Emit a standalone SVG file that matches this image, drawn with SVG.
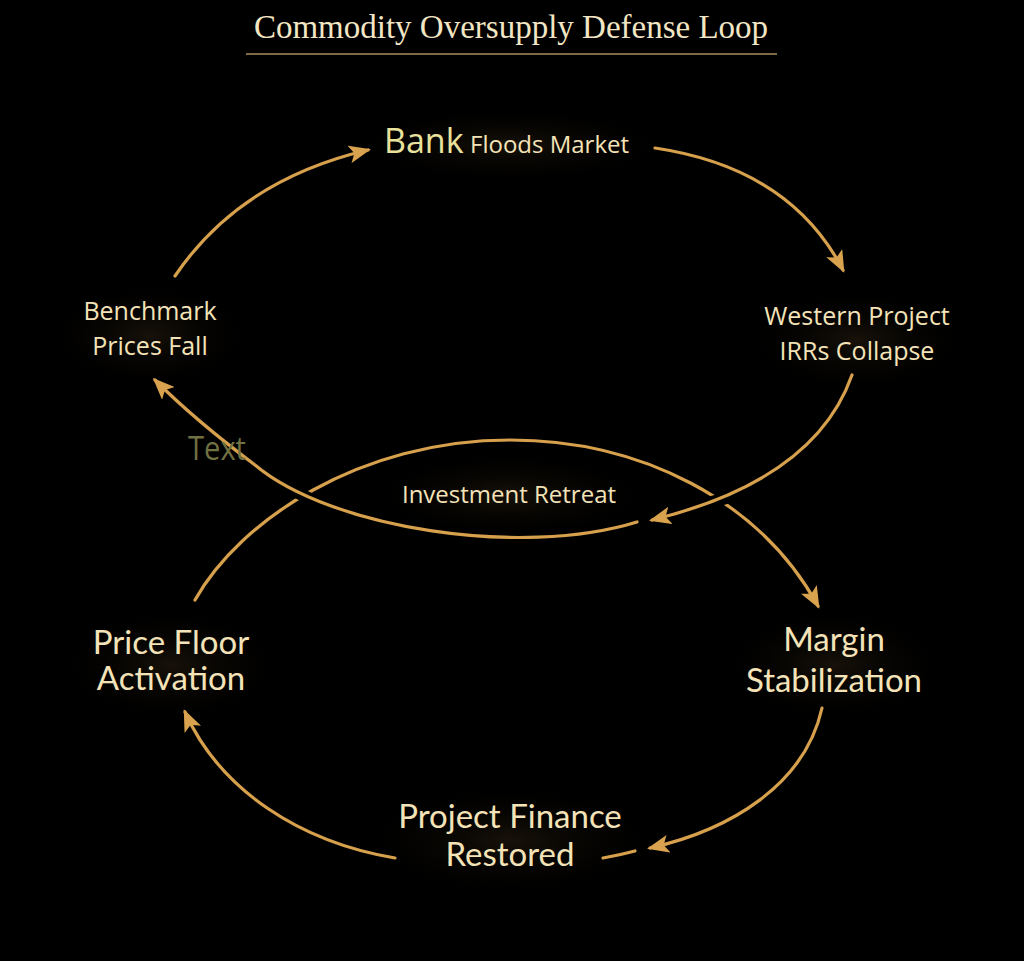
<svg xmlns="http://www.w3.org/2000/svg" width="1024" height="961" viewBox="0 0 1024 961">
<defs>
<marker id="ah" viewBox="0 0 22 18" refX="19" refY="9" markerWidth="22" markerHeight="18" markerUnits="userSpaceOnUse" orient="auto">
<path d="M0,0 L22,9 L0,18 L5,9 Z" fill="#d9a24e"/>
</marker>
<radialGradient id="glow" cx="50%" cy="50%" r="50%">
<stop offset="0" stop-color="#2a2010" stop-opacity="0.55"/>
<stop offset="1" stop-color="#000" stop-opacity="0"/>
</radialGradient>
<style>
.lbl{font-family:"Open Sans","Lato",sans-serif;fill:#f4e3b8;text-anchor:middle}
.big{font-family:"Lato","Open Sans",sans-serif;fill:#f4e3b8;text-anchor:middle;font-size:33px}
.c{fill:none;stroke:#d6a04c;stroke-width:3.2;stroke-linecap:round}
.cut{fill:none;stroke:#000;stroke-width:12}
</style>
</defs>
<rect width="1024" height="961" fill="#000"/>
<g id="glows">
<ellipse cx="510" cy="145" rx="170" ry="40" fill="url(#glow)"/>
<ellipse cx="857" cy="340" rx="120" ry="55" fill="url(#glow)"/>
<ellipse cx="150" cy="335" rx="110" ry="55" fill="url(#glow)"/>
<ellipse cx="509" cy="495" rx="150" ry="45" fill="url(#glow)"/>
<ellipse cx="171" cy="665" rx="120" ry="60" fill="url(#glow)"/>
<ellipse cx="834" cy="665" rx="120" ry="60" fill="url(#glow)"/>
<ellipse cx="510" cy="840" rx="160" ry="60" fill="url(#glow)"/>
</g>
<g id="title">
<text x="511" y="38" font-family="Liberation Serif,serif" font-size="33" fill="#f3e6c4" text-anchor="middle">Commodity Oversupply Defense Loop</text>
<line x1="246" y1="54" x2="777" y2="54" stroke="#a88f5c" stroke-width="1.5"/>
</g>
<g id="connectors">
<path class="c" d="M175,276 Q240,180 368,150" marker-end="url(#ah)"/>
<path class="c" d="M655,148 Q790,168 843,270" marker-end="url(#ah)"/>
<path class="c" d="M195,600 C240,520 360,440 510,440 C640,440 760,500 818,606" marker-end="url(#ah)"/>
<path class="cut" d="M637,522 C520,558 330,528 262,470"/>
<path class="c" d="M637,522 C520,558 330,528 255,465 Q195,420 155,380" marker-end="url(#ah)"/>
<path class="cut" d="M840,410 Q810,480 700,505"/>
<path class="c" d="M852,375 Q815,480 652,520" marker-end="url(#ah)"/>
<path class="c" d="M822,708 C805,785 730,830 650,848" marker-end="url(#ah)"/>
<path class="c" d="M603,858 Q620,855 635,851"/>
<path class="c" d="M395,858 C300,842 220,790 185,712" marker-end="url(#ah)"/>
</g>
<g id="node-bank">
<text x="384" y="153" font-family="Open Sans,sans-serif" font-size="34" fill="#e9e29c">Bank</text>
<text x="470" y="153" font-family="Open Sans,sans-serif" font-size="24" fill="#f4e3b8">Floods Market</text>
</g>
<g id="node-western">
<text class="lbl" x="857" y="325" font-size="25">Western Project</text>
<text class="lbl" x="857" y="360" font-size="25">IRRs Collapse</text>
</g>
<g id="node-benchmark">
<text class="lbl" x="150" y="320" font-size="25">Benchmark</text>
<text class="lbl" x="150" y="355" font-size="25">Prices Fall</text>
</g>
<g id="stray-text">
<text x="188" y="460" font-family="Open Sans,sans-serif" font-size="32" fill="#707040" textLength="58" lengthAdjust="spacingAndGlyphs">Text</text>
</g>
<g id="node-investment">
<text class="lbl" x="509" y="503" font-size="24">Investment Retreat</text>
</g>
<g id="node-pricefloor">
<text class="big" x="171" y="654">Price Floor</text>
<text class="big" x="171" y="690">Activation</text>
</g>
<g id="node-margin">
<text class="big" x="834" y="651">Margin</text>
<text class="big" x="834" y="692">Stabilization</text>
</g>
<g id="node-finance">
<text class="big" x="510" y="828">Project Finance</text>
<text class="big" x="510" y="866">Restored</text>
</g>
</svg>
